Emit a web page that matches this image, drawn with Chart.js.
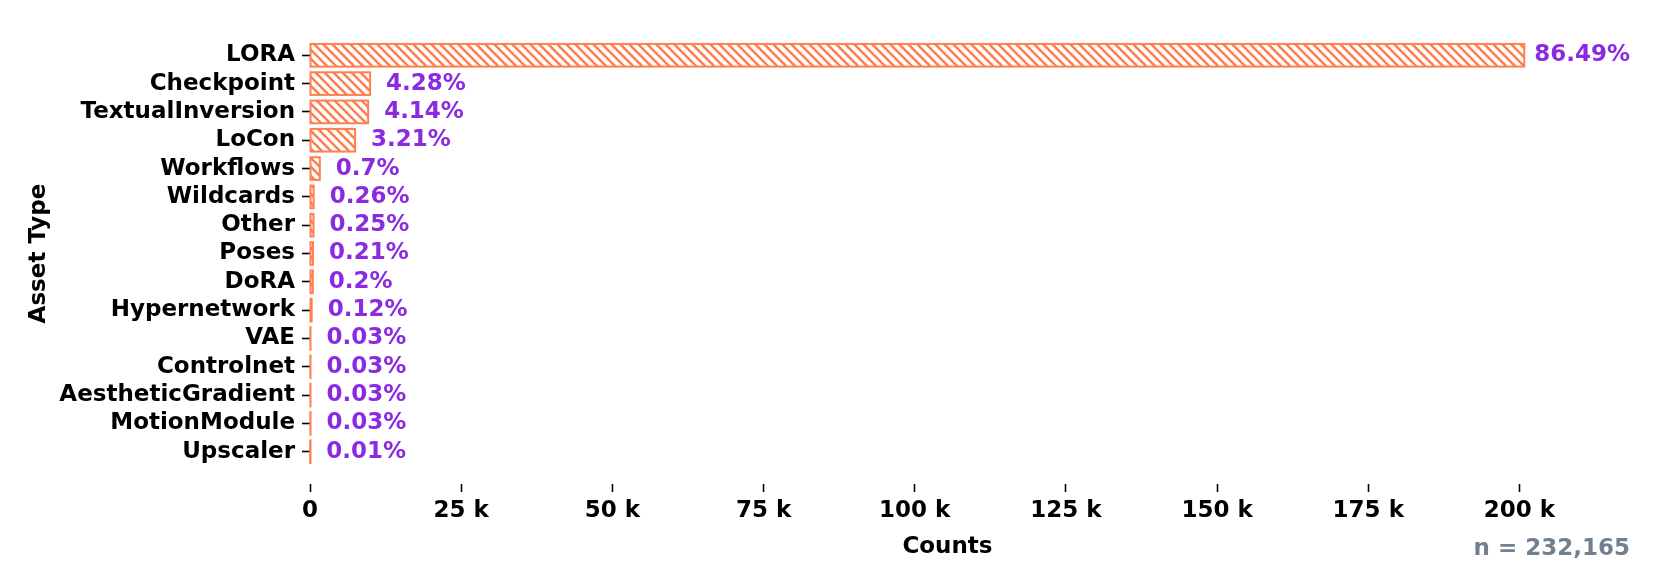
<!DOCTYPE html>
<html>
<head>
<meta charset="utf-8">
<script src="https://cdn.jsdelivr.net/npm/chart.js@4/dist/chart.umd.min.js"></script>
<style>
  body { margin: 0; background: #fff; }
  #wrap { width: 1661px; height: 581px; }
</style>
</head>
<body>
<div id="wrap"><canvas id="assetChart" width="1661" height="581"></canvas></div>
<script>
// ==========================
// DATOS
// ==========================
const assetTypes = ["LORA", "Checkpoint", "TextualInversion", "LoCon", "Workflows", "Wildcards", "Other",
    "Poses", "DoRA", "Hypernetwork", "VAE", "Controlnet", "AestheticGradient", "MotionModule", "Upscaler"];
const counts = [200800, 9937, 9612, 7453, 1625, 604, 580, 488, 464, 279, 70, 70, 70, 70, 23];
const percents = [86.49, 4.28, 4.14, 3.21, 0.7, 0.26, 0.25, 0.21, 0.2, 0.12, 0.03, 0.03, 0.03, 0.03, 0.01];
const xTicks = [0, 25000, 50000, 75000, 100000, 125000, 150000, 175000, 200000];
const totalLabel = "n = 232,165";

const FONT = "'DejaVu Sans', sans-serif";
const CORAL = "#FF7F50";

// patrón de rayas "\\" para las barras
function makeHatch(){
    const s = 9;
    const c = document.createElement("canvas");
    c.width = s; c.height = s;
    const g = c.getContext("2d");
    g.fillStyle = "#fff";
    g.fillRect(0, 0, s, s);
    g.strokeStyle = CORAL;
    g.lineWidth = 2.6;
    g.beginPath();
    g.moveTo(-3, -3); g.lineTo(s + 3, s + 3);
    g.moveTo(-3, s - 3); g.lineTo(3, s + 3);
    g.moveTo(s - 3, -3); g.lineTo(s + 3, 3);
    g.stroke();
    return g.createPattern(c, "repeat");
}

// contorno de barras (como matplotlib, el borde sobresale del rectángulo)
const outlinePlugin = {
    id: "outline",
    afterDatasetsDraw(chart){
        const ctx = chart.ctx;
        const meta = chart.getDatasetMeta(0);
        ctx.save();
        ctx.strokeStyle = CORAL;
        ctx.lineWidth = 2;
        meta.data.forEach(bar => {
            const p = bar.getProps(["x", "y", "base", "height"], true);
            ctx.strokeRect(p.base, p.y - p.height / 2, p.x - p.base, p.height);
        });
        ctx.restore();
    }
};

// etiquetas de porcentaje + total
const labelPlugin = {
    id: "pctLabels",
    afterDraw(chart){
        const ctx = chart.ctx;
        const meta = chart.getDatasetMeta(0);
        ctx.save();
        ctx.font = "bold 23px " + FONT;
        ctx.fillStyle = "#8A2BE2";
        ctx.textAlign = "left";
        ctx.textBaseline = "middle";
        meta.data.forEach((bar, i) => {
            const p = bar.getProps(["x", "y"], true);
            const off = i === 0 ? 10 : 16;
            ctx.fillText(percents[i] + "%", p.x + off, p.y);
        });
        ctx.fillStyle = "#708090";
        ctx.textAlign = "right";
        ctx.fillText(totalLabel, 1630, 549);
        ctx.restore();
    }
};

new Chart(document.getElementById("assetChart"), {
    type: "bar",
    data: {
        datasets: [{
            data: counts.map((v, i) => ({ x: v, y: i })),
            backgroundColor: makeHatch(),
            borderWidth: 0,
            inflateAmount: 0,
            categoryPercentage: 0.8,
            barPercentage: 1
        }]
    },
    options: {
        indexAxis: "y",
        responsive: false,
        animation: false,
        layout: { padding: { left: 0, right: 76, top: 23, bottom: 0 } },
        plugins: { legend: { display: false }, tooltip: { enabled: false } },
        scales: {
            x: {
                type: "linear",
                min: 0,
                max: 210840,
                border: { display: false },
                grid: { drawOnChartArea: false, tickLength: 8, color: "#000", tickWidth: 1.6 },
                afterBuildTicks: s => { s.ticks = xTicks.map(v => ({ value: v })); },
                afterFit: s => { s.height = 97; },
                ticks: {
                    padding: 5,
                    color: "#000",
                    font: { family: FONT, size: 23, weight: "bold" },
                    callback: v => v === 0 ? "0" : (v / 1000) + " k"
                },
                title: {
                    display: true, text: "Counts", color: "#000",
                    font: { family: FONT, size: 23, weight: "bold" },
                    padding: { top: 0, bottom: 20 }
                }
            },
            y: {
                type: "linear",
                min: -1.14,
                max: 15.14,
                reverse: true,
                offset: false,
                border: { display: false },
                grid: { offset: false, drawOnChartArea: false, tickLength: 8, color: "#000", tickWidth: 1.6 },
                afterBuildTicks: s => { s.ticks = assetTypes.map((_, i) => ({ value: i })); },
                afterFit: s => { s.width = 310; },
                ticks: {
                    padding: 7,
                    color: "#000",
                    font: { family: FONT, size: 23, weight: "bold" },
                    callback: v => assetTypes[v]
                },
                title: {
                    display: true, text: "Asset Type", color: "#000",
                    font: { family: FONT, size: 23, weight: "bold" },
                    padding: { top: 25, bottom: 0 }
                }
            }
        }
    },
    plugins: [outlinePlugin, labelPlugin]
});
</script>
</body>
</html>
